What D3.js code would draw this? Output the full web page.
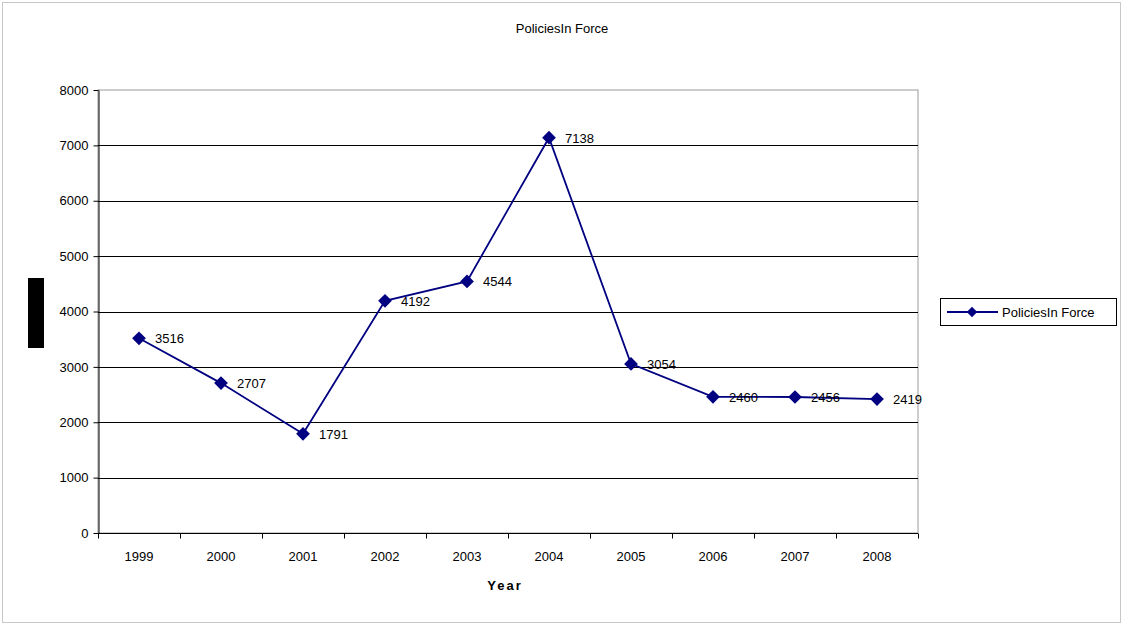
<!DOCTYPE html>
<html>
<head>
<meta charset="utf-8">
<script src="https://cdn.jsdelivr.net/npm/d3@7"></script>
<style>
  body { margin: 0; background: #fff; }
  text { font-family: "Liberation Sans", Arial, sans-serif; }
</style>
</head>
<body>
<svg id="chart" width="1123" height="625"></svg>
<script>
// data
const years = ["1999", "2000", "2001", "2002", "2003", "2004", "2005", "2006", "2007", "2008"];
const policies = [3516, 2707, 1791, 4192, 4544, 7138, 3054, 2460, 2456, 2419];
const yTicks = [0, 1000, 2000, 3000, 4000, 5000, 6000, 7000, 8000];

const svg = d3.select("#chart");
const plot = { left: 98, right: 918, top: 90, bottom: 533 };
const navy = "#000080";

// outer frame
svg.append("rect")
  .attr("x", 2.5).attr("y", 2.5)
  .attr("width", 1118).attr("height", 620)
  .style("fill", "none").style("stroke", "#c8c8c8");

let x = d3.scaleBand().domain(years).range([plot.left, plot.right]);
let y = d3.scaleLinear().domain([0, 8000]).range([plot.bottom, plot.top]);

// plot area border (gray)
svg.append("rect")
  .attr("x", plot.left).attr("y", plot.top)
  .attr("width", plot.right - plot.left).attr("height", plot.bottom - plot.top)
  .style("fill", "none").style("stroke", "#9a9a9a");

// gridlines
svg.append("g").selectAll("line")
  .data(yTicks.filter(d => d > 0 && d < 8000))
  .join("line")
  .attr("x1", plot.left).attr("x2", plot.right)
  .attr("y1", d => Math.round(y(d)) + 0.5).attr("y2", d => Math.round(y(d)) + 0.5)
  .style("stroke", "#000").style("stroke-width", 1);

// y axis
let yAxis = svg.append("g")
  .attr("transform", "translate(" + (plot.left + 0.5) + ",0)")
  .call(d3.axisLeft(y).tickValues(yTicks).tickFormat(d3.format("d"))
    .tickSize(5).tickPadding(5).tickSizeOuter(0));
yAxis.selectAll("text").style("font-size", "13px").style("fill", "#000")
  .style("font-family", "'Liberation Sans', Arial, sans-serif");
yAxis.selectAll("line, path").style("stroke", "#000");

// x axis, ticks at band edges
let xAxis = svg.append("g")
  .attr("transform", "translate(0," + (plot.bottom + 0.5) + ")");
xAxis.append("line")
  .attr("x1", plot.left).attr("x2", plot.right)
  .style("stroke", "#000");
xAxis.selectAll("line.tick")
  .data(years.concat(["end"]))
  .join("line")
  .attr("class", "tick")
  .attr("x1", (d, i) => plot.left + i * x.step() + 0.5)
  .attr("x2", (d, i) => plot.left + i * x.step() + 0.5)
  .attr("y1", 0).attr("y2", 5)
  .style("stroke", "#000");
xAxis.selectAll("text")
  .data(years)
  .join("text")
  .attr("x", d => x(d) + x.bandwidth() / 2)
  .attr("y", 27)
  .attr("text-anchor", "middle")
  .style("font-size", "13px")
  .text(d => d);

// series line
let line = d3.line()
  .x(function (d, i) { return x(years[i]) + x.bandwidth() / 2; })
  .y(function (d) { return y(d); });

svg.append("path")
  .datum(policies)
  .attr("d", line)
  .style("fill", "none")
  .style("stroke", navy)
  .style("stroke-width", 1.8);

// diamond markers
let diamond = d3.symbol().type(d3.symbolDiamond2).size(120);
svg.append("g").selectAll("path")
  .data(policies)
  .join("path")
  .attr("d", diamond)
  .attr("transform", (d, i) => "translate(" + (x(years[i]) + x.bandwidth() / 2) + "," + y(d) + ")")
  .style("fill", navy);

// data labels
svg.append("g").selectAll("text")
  .data(policies)
  .join("text")
  .attr("x", (d, i) => x(years[i]) + x.bandwidth() / 2 + 16)
  .attr("y", d => y(d) + 5)
  .style("font-size", "13px")
  .text(d => d);

// title
svg.append("text")
  .attr("x", 562).attr("y", 33)
  .attr("text-anchor", "middle")
  .style("font-size", "13px")
  .text("PoliciesIn Force");

// x axis title
svg.append("text")
  .attr("x", 505).attr("y", 590)
  .attr("text-anchor", "middle")
  .style("font-size", "13px")
  .style("font-weight", "bold")
  .style("letter-spacing", "2px")
  .text("Year");

// black block where the y title sits
svg.append("rect")
  .attr("x", 28).attr("y", 278)
  .attr("width", 16).attr("height", 70)
  .style("fill", "#000");

// legend
let legend = svg.append("g").attr("transform", "translate(940,298)");
legend.append("rect")
  .attr("x", 0.5).attr("y", 0.5)
  .attr("width", 176).attr("height", 27)
  .style("fill", "#fff").style("stroke", "#000");
legend.append("line")
  .attr("x1", 7).attr("x2", 58).attr("y1", 14).attr("y2", 14)
  .style("stroke", navy).style("stroke-width", 2);
legend.append("path")
  .attr("d", d3.symbol().type(d3.symbolDiamond2).size(70))
  .attr("transform", "translate(32,14)")
  .style("fill", navy);
legend.append("text")
  .attr("x", 62).attr("y", 19)
  .style("font-size", "13px")
  .text("PoliciesIn Force");
</script>
</body>
</html>
